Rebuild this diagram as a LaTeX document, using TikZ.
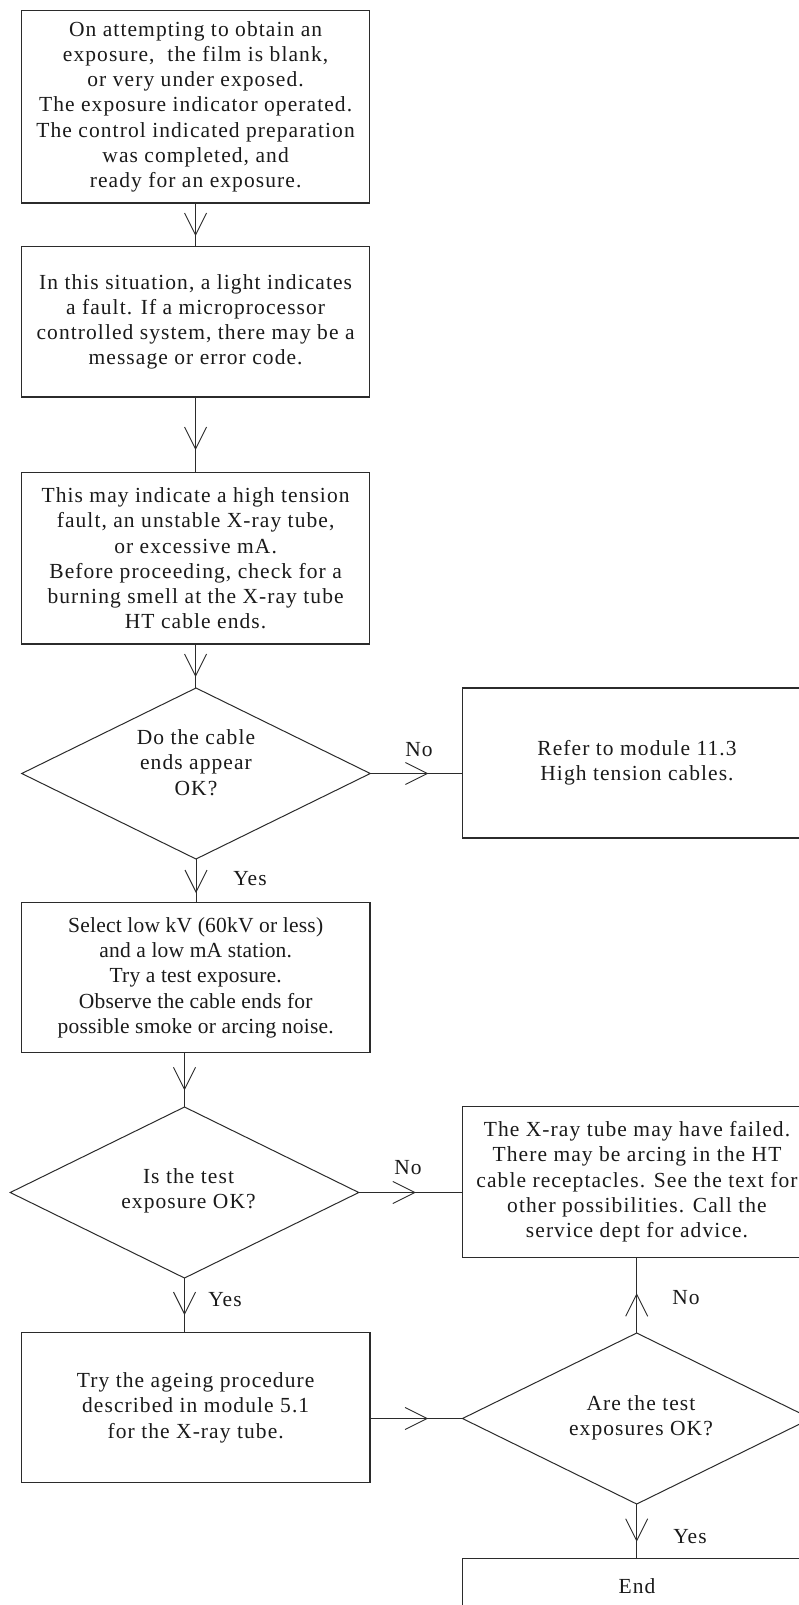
\documentclass[tikz,border=0pt]{standalone}
\usepackage{fontspec}
\setmainfont[LetterSpace=5]{Liberation Serif}
\newfontfamily\condfont[LetterSpace=1]{Liberation Serif}
\usetikzlibrary{shapes.geometric,arrows.meta,decorations.markings}
\definecolor{linecol}{HTML}{2B2B2B}
\definecolor{txtcol}{HTML}{1A1A1A}
\newcommand\myfs{\fontsize{21.5pt}{25.3pt}\selectfont}
\tikzset{
  boxnode/.style={draw=linecol, line width=1.2pt, rectangle, minimum width=348.4pt,
    inner sep=0pt, outer sep=0pt, align=center, font=\myfs, text=txtcol},
  decnode/.style={draw=linecol, line width=1pt, diamond, minimum width=348.5pt,
    minimum height=171pt, inner sep=0pt, outer sep=0pt},
  txtnode/.style={align=center, font=\myfs, text=txtcol, inner sep=0pt},
  conn/.style={draw=linecol, line width=0.9pt, postaction={decorate},
    decoration={markings, mark=at position -#1 with
      {\arrow{Straight Barb[length=22pt,width=22pt,line width=0.9pt]}}}},
}
\begin{document}
\begin{tikzpicture}[x=1pt,y=-1pt]
\useasboundingbox (0,0) rectangle (799,1605);
\fill[white] (0,0) rectangle (799,1605);
\clip (0,0) rectangle (799,1605);

% boxes
\node[boxnode, minimum height=192.3pt] (b1) at (195.6,106.85)
  {On attempting to obtain an\\ exposure,\ \ the film is blank,\\ or very under exposed.\\ The exposure indicator operated.\\ The control indicated preparation\\ was completed, and\\ ready for an exposure.};
\node[boxnode, minimum height=150.3pt] (b2) at (195.6,321.85)
  {In this situation, a light indicates\\ a fault. If a microprocessor\\ controlled system, there may be a\\ message or error code.};
\node[boxnode, minimum height=171.3pt] (b3) at (195.6,558.35)
  {This may indicate a high tension\\ fault, an unstable X-ray tube,\\ or excessive mA.\\ Before proceeding, check for a\\ burning smell at the X-ray tube\\ HT cable ends.};
\node[decnode] (d1) at (196,773.5) {};
\node[txtnode] (d1t) at (196,762.5) {Do the cable\\ ends appear\\ OK?};
\node[boxnode, minimum height=150pt] (r1) at (637,763)
  {Refer to module 11.3\\ High tension cables.};
\node[boxnode, minimum height=150pt, font=\condfont\myfs] (b4) at (195.7,977.7)
  {Select low kV (60kV or less)\\ and a low mA station.\\ Try a test exposure.\\ Observe the cable ends for\\ possible smoke or arcing noise.};
\node[decnode] (d2) at (184.5,1192.5) {};
\node[txtnode] (d2t) at (188.5,1191) {Is the test\\ exposure OK?};
\node[boxnode, minimum height=150.6pt] (r2) at (637,1182)
  {The X-ray tube may have failed.\\ There may be arcing in the HT\\ cable receptacles. See the text for\\ other possibilities. Call the\\ service dept for advice.};
\node[boxnode, minimum height=150pt] (b6) at (195.7,1407.7)
  {Try the ageing procedure\\ described in module 5.1\\ for the X-ray tube.};
\node[decnode] (d3) at (636.7,1418.5) {};
\node[txtnode] (d3t) at (641,1418) {Are the test\\ exposures OK?};
\node[boxnode, minimum height=56pt] (en) at (637,1586.3) {End};

% connectors
\draw[conn=10.7pt] (b1) -- (b2);
\draw[conn=22.7pt] (b2) -- (b3);
\draw[conn=11pt] (b3.south) -- (b3.south |- d1.north);
\draw[conn=34.4pt] (d1.east) -- (d1.east -| r1.west);
\draw[conn=9.7pt] (d1.south) -- (d1.south |- b4.north);
\draw[conn=16.7pt] (d2.north |- b4.south) -- (d2.north);
\draw[conn=47pt] (d2.east) -- (d2.east -| r2.west);
\draw[conn=17.7pt] (d2.south) -- (d2.south |- b6.north);
\draw[conn=34.4pt] (b6.east |- d3.west) -- (d3.west);
\draw[conn=36pt] (d3.north) -- (d3.north |- r2.south);
\draw[conn=16.6pt] (d3.south) -- (d3.south |- en.north);

% labels
\node[txtnode] (l1) at (419,750) {No};
\node[txtnode] (l2) at (250,879) {Yes};
\node[txtnode] (l3) at (408,1168) {No};
\node[txtnode] (l4) at (225,1300) {Yes};
\node[txtnode] (l5) at (686,1298) {No};
\node[txtnode] (l6) at (690,1537) {Yes};
\end{tikzpicture}
\end{document}
